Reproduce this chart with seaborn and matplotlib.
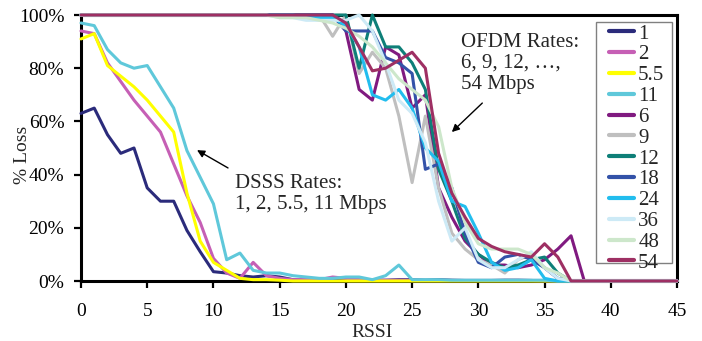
import matplotlib
matplotlib.use("Agg")
import matplotlib.pyplot as plt
import seaborn as sns
import pandas as pd
from matplotlib.ticker import FuncFormatter
from matplotlib.patches import Rectangle

# ---------------- data ----------------
rssi = list(range(46))
series_names = ["1", "2", "5.5", "11", "6", "9", "12", "18", "24", "36", "48", "54"]

loss_1 = [63, 65, 55, 48, 50, 35, 30, 30, 19, 11, 3.5, 3, 2, 1.5, 2, 1.5, 0.5, 0.3, 0.3, 0.5,
          0.5, 0.3, 0.3, 0.3, 0.5, 0.5, 0.3, 0.5, 0.3, 0.2, 0.2, 0.2, 0.3, 0.3, 0.2, 0, 0, 0, 0, 0,
          0, 0, 0, 0, 0, 0]
loss_2 = [94, 93, 82, 75, 68, 62, 56, 44, 32, 22, 8.5, 3, 1, 7, 2, 1, 0.5, 0.5, 0.5, 1.5,
          1, 0.5, 0.3, 0.3, 0.3, 0.3, 0.2, 0.2, 0.2, 0.2, 0.2, 0.2, 0.2, 0.2, 0.2, 0.2, 0.2, 0.2, 0.2, 0.2,
          0.2, 0.2, 0.2, 0.2, 0.2, 0.2]
loss_5_5 = [91, 93, 81, 77, 73, 68, 62, 56, 33, 15, 7, 4, 1, 0.5, 0.5, 0.3, 0, 0, 0, 0,
            0, 0, 0, 0, 0, 0, 0, 0, 0, 0, 0, 0, 0, 0, 0, 0, 0, 0, 0, 0,
            0, 0, 0, 0, 0, 0]
loss_11 = [97, 96, 87, 82, 80, 81, 73, 65, 49, 39, 29, 8, 10.5, 4, 3, 3, 2, 1.5, 1, 1,
           1.5, 1.5, 0.5, 2, 6, 0.5, 0.5, 0.5, 0.3, 0.3, 0.3, 0.3, 0.3, 0.3, 0.3, 0.3, 0, 0, 0, 0,
           0, 0, 0, 0, 0, 0]
loss_6 = [100, 100, 100, 100, 100, 100, 100, 100, 100, 100, 100, 100, 100, 100, 100, 100, 100, 100, 100, 100,
          94, 72, 68, 88, 85, 65, 70, 35, 24, 15, 10, 6, 6, 5, 6, 8, 12, 17, 0, 0,
          0, 0, 0, 0, 0, 0]
loss_9 = [100, 100, 100, 100, 100, 100, 100, 100, 100, 100, 100, 100, 100, 100, 100, 100, 100, 100, 100, 92,
          100, 78, 86, 80, 62, 37, 62, 35, 18, 12, 8, 6, 3, 8, 10, 5, 1, 0, 0, 0,
          0, 0, 0, 0, 0, 0]
loss_12 = [100, 100, 100, 100, 100, 100, 100, 100, 100, 100, 100, 100, 100, 100, 100, 100, 100, 100, 100, 100,
           100, 80, 100, 88, 88, 82, 72, 42, 30, 16, 10, 7, 5, 6, 8, 9, 3, 0, 0, 0,
           0, 0, 0, 0, 0, 0]
loss_18 = [100, 100, 100, 100, 100, 100, 100, 100, 100, 100, 100, 100, 100, 100, 100, 100, 100, 100, 100, 100,
           94, 94, 94, 84, 82, 78, 42, 44, 35, 18, 7, 5, 9, 10, 8, 5, 1, 0, 0, 0,
           0, 0, 0, 0, 0, 0]
loss_24 = [100, 100, 100, 100, 100, 100, 100, 100, 100, 100, 100, 100, 100, 100, 100, 100, 100, 99, 99, 99,
           96, 88, 70, 68, 72, 65, 50, 45, 30, 28, 18, 7, 4, 5, 8, 1, 0, 0, 0, 0,
           0, 0, 0, 0, 0, 0]
loss_36 = [100, 100, 100, 100, 100, 100, 100, 100, 100, 100, 100, 100, 100, 100, 100, 99, 99, 98, 98, 98,
           98, 100, 94, 82, 68, 63, 52, 30, 15, 20, 8, 5, 5, 8, 11, 5, 1, 0, 0, 0,
           0, 0, 0, 0, 0, 0]
loss_48 = [100, 100, 100, 100, 100, 100, 100, 100, 100, 100, 100, 100, 100, 100, 100, 99, 99, 99, 98, 97,
           95, 92, 88, 82, 76, 72, 68, 58, 35, 22, 14, 12, 12, 12, 10, 5, 3, 0, 0, 0,
           0, 0, 0, 0, 0, 0]
loss_54 = [100, 100, 100, 100, 100, 100, 100, 100, 100, 100, 100, 100, 100, 100, 100, 100, 100, 100, 100, 100,
           97, 88, 79, 80, 83, 86, 80, 48, 33, 24, 16, 13, 11, 10, 9, 14, 9, 0, 0, 0,
           0, 0, 0, 0, 0, 0]

all_series = [loss_1, loss_2, loss_5_5, loss_11, loss_6, loss_9, loss_12,
              loss_18, loss_24, loss_36, loss_48, loss_54]
colors = ["#2B2B7B", "#C65FB5", "#FFFF00", "#5FC8DA", "#801A80", "#BFBFBF",
          "#0E7F78", "#3352A8", "#22BDEE", "#CDEAF6", "#CDE7CB", "#9E2F63"]
x_ticks = [0, 5, 10, 15, 20, 25, 30, 35, 40, 45]
y_ticks = [0, 20, 40, 60, 80, 100]

# ---------------- plot ----------------
sns.set_style("ticks")
plt.rcParams["font.family"] = ["Liberation Serif", "DejaVu Serif"]

df = pd.concat(
    [pd.DataFrame({"RSSI": rssi, "Loss": vals, "Rate": name})
     for name, vals in zip(series_names, all_series)],
    ignore_index=True)

W, H = 702, 341
fig = plt.figure(figsize=(W / 100, H / 100), dpi=100)
ax = fig.add_axes([81 / W, 1 - 281 / H, 596 / W, 266 / H])

sns.lineplot(data=df, x="RSSI", y="Loss", hue="Rate", hue_order=series_names,
             palette=dict(zip(series_names, colors)), linewidth=2.2,
             estimator=None, ax=ax)

for line in ax.get_lines():
    line.set_clip_on(False)
    line.set_zorder(3)
    line.set_solid_joinstyle("round")
    line.set_solid_capstyle("round")

ax.set_xlim(0, 45)
ax.set_ylim(0, 100)
ax.set_xticks(x_ticks)
ax.set_yticks(y_ticks)
ax.yaxis.set_major_formatter(FuncFormatter(lambda v, p: f"{int(v)}%"))

for sp in ax.spines.values():
    sp.set_visible(True)
    sp.set_color("black")
    sp.set_linewidth(2.2)
    sp.set_zorder(2.5)

ax.tick_params(axis="both", direction="out", length=5, width=1.6, color="black",
               labelsize=14, labelcolor="black")
ax.tick_params(axis="x", pad=11)
ax.tick_params(axis="y", pad=7)

ax.set_xlabel("RSSI", fontsize=14)
ax.set_ylabel("% Loss", fontsize=14)
ax.xaxis.set_label_coords(0.488, -0.162)
ax.yaxis.set_label_coords(-0.084, 0.474)

# annotations
arrow = dict(arrowstyle="-|>", color="black", lw=1.0, mutation_scale=11,
             shrinkA=0, shrinkB=0)
ax.annotate("", xy=(8.76, 49.2), xytext=(11.1, 42.5), arrowprops=arrow)
ax.text(11.63, 40.4, "DSSS Rates:\n1, 2, 5.5, 11 Mbps", ha="left", va="top",
        fontsize=15, linespacing=1.15)
ax.annotate("", xy=(28.0, 56.0), xytext=(30.3, 66.9), arrowprops=arrow)
ax.text(28.7, 93.4, "OFDM Rates:\n6, 9, 12, \u2026,\n54 Mbps", ha="left", va="top",
        fontsize=15, linespacing=1.15)

# legend
handles, labels = ax.get_legend_handles_labels()
if ax.get_legend() is not None:
    ax.get_legend().remove()
frame = Rectangle((596 / W, 1 - 263 / H), 76 / W, 241 / H, transform=fig.transFigure,
                  facecolor="white", edgecolor="#808080", linewidth=1.0, zorder=4)
fig.add_artist(frame)
leg = fig.legend(handles, labels, loc="upper left",
                 bbox_to_anchor=(609 / W, 1 - 24 / H), frameon=False,
                 fontsize=15, labelspacing=0.06, handlelength=1.2,
                 handletextpad=0.2, borderpad=0, borderaxespad=0)
leg.set_zorder(5)
for h in leg.legend_handles:
    h.set_linewidth(3)

fig.savefig("out.png", dpi=100)
